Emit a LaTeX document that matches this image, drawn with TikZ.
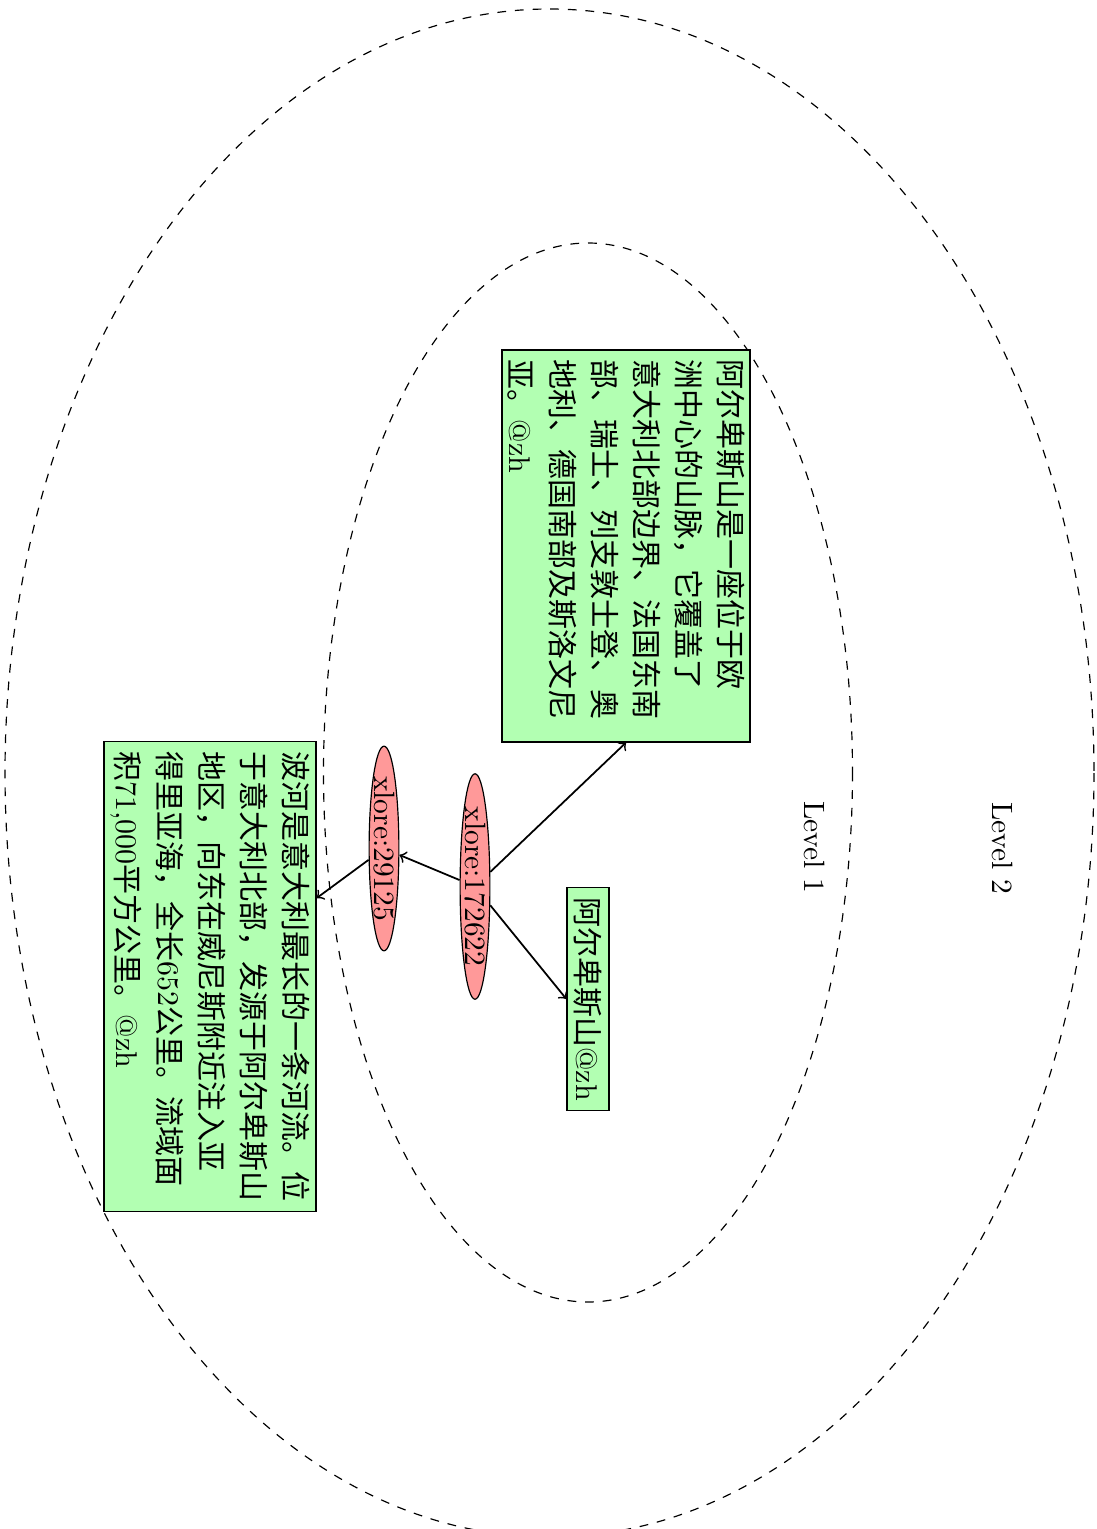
\documentclass[tikz,border=0pt]{standalone}
\usepackage{fontspec}
\newfontfamily\cjk{Noto Sans CJK SC}
\usetikzlibrary{shapes.geometric}
\begin{document}
\begin{tikzpicture}[x=0.34pt,y=-0.34pt,
  textbox/.style={draw, fill=green!30, rotate=-90, align=left,
    font=\fontsize{10.2}{14.3}\selectfont, inner xsep=3.33pt, inner ysep=1.2pt},
  entity/.style={draw, fill=red!40, ellipse, rotate=-90, inner sep=0pt},
  level/.style={rotate=-90},
  edge/.style={->, semithick},
  cluster/.style={dashed}]
\useasboundingbox (0,0) rectangle (1097,1529);
\clip (0,0) rectangle (1097,1529);
\draw[cluster] (549.5,773) ellipse [x radius=544.5, y radius=764];
\draw[cluster] (588,772.5) ellipse [x radius=264.5, y radius=529.5];
\node[level] (l1) at (815,847) {Level 1};
\node[level] (l2) at (1003,848) {Level 2};
\node[textbox, text width=126.6pt, minimum height=84.3pt] (a) at (626,546)
  {{\cjk 阿尔卑斯山是一座位于欧}\\
   {\cjk 洲中心的山脉，它覆盖了}\\
   {\cjk 意大利北部边界、法国东南}\\
   {\cjk 部、瑞士、列支敦士登、奥}\\
   {\cjk 地利、德国南部及斯洛文尼}\\
   {\cjk 亚。}@zh};
\node[textbox, text width=153pt, minimum height=72.1pt] (b) at (210,976.5)
  {{\cjk 波河是意大利最长的一条河流。位}\\
   {\cjk 于意大利北部，发源于阿尔卑斯山}\\
   {\cjk 地区，向东在威尼斯附近注入亚}\\
   {\cjk 得里亚海，全长}652{\cjk 公里。流域面}\\
   {\cjk 积}71,000{\cjk 平方公里。}@zh};
\node[textbox, minimum width=72pt, minimum height=14.3pt] (c) at (588,999)
  {{\cjk 阿尔卑斯山}@zh};
\node[entity] (d) at (475,886.5) {xlore:172622};
\node[entity] (e) at (384,848.5) {xlore:29125};
\draw[edge] (d) -- (a.east);
\draw[edge] (d) -- (c.south);
\draw[edge] (d) -- (e);
\draw[edge] (e) -- (b);
\end{tikzpicture}
\end{document}
